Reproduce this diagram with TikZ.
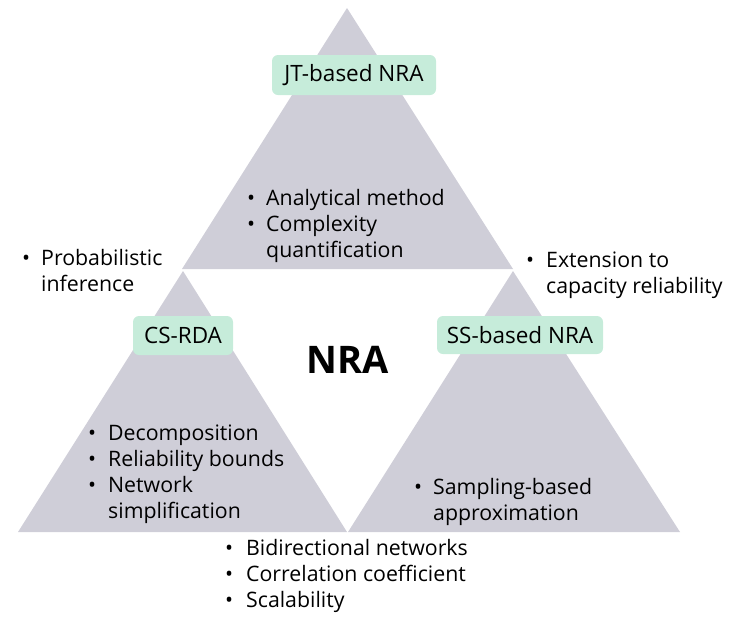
\documentclass[tikz,border=0pt]{standalone}
\usepackage{fontspec}
\setmainfont{Open Sans}
\definecolor{tri}{RGB}{207,206,216}
\definecolor{lbl}{RGB}{198,236,218}
\tikzset{
  tri/.style={fill=tri, draw=none},
  lblbox/.style={fill=lbl, draw=none, rounded corners=6pt, inner sep=0pt, font=\fontsize{22.5}{24}\selectfont},
  blist/.style={anchor=base west, inner sep=0pt, font=\fontsize{21.3}{26}\selectfont},
}
\newcommand{\bl}{\makebox[19pt][l]{\textbullet}}
\newcommand{\nb}{\makebox[19pt][l]{}}
\begin{document}
\begin{tikzpicture}[x=1pt,y=-1pt]
\useasboundingbox (0,0) rectangle (738,622);
% triangles
\fill[tri] (347,8) -- (513,269) -- (182,269) -- cycle;
\fill[tri] (183,271) -- (347,532) -- (18,532) -- cycle;
\fill[tri] (513,271) -- (680,532) -- (348,532) -- cycle;
% labels
\node[lblbox, minimum width=164pt, minimum height=40pt] (jt) at (354,75) {JT-based NRA};
\node[lblbox, minimum width=100pt, minimum height=39pt] (cs) at (183,335.5) {CS-RDA};
\node[lblbox, minimum width=166pt, minimum height=38pt] (ss) at (520,335) {SS-based NRA};
\node[anchor=base, inner sep=0pt, font=\fontsize{38}{40}\selectfont\bfseries] (nra) at (348,373) {NRA};
% lists
\node[blist] (top) at (247,205) {\begin{tabular}[t]{@{}l@{}}\bl Analytical method\\ \bl Complexity\\ \nb quantification\end{tabular}};
\node[blist] (prob) at (22,265) {\begin{tabular}[t]{@{}l@{}}\bl Probabilistic\\ \nb inference\end{tabular}};
\node[blist] (ext) at (526,267) {\begin{tabular}[t]{@{}l@{}}\makebox[20pt][l]{\textbullet}Extension to\\ \makebox[20pt][l]{}capacity reliability\end{tabular}};
\node[blist] (left) at (88,440) {\begin{tabular}[t]{@{}l@{}}\makebox[20pt][l]{\textbullet}Decomposition\\ \makebox[20pt][l]{\textbullet}Reliability bounds\\ \makebox[20pt][l]{\textbullet}Network\\ \makebox[20pt][l]{}simplification\end{tabular}};
\node[blist] (right) at (414,494) {\begin{tabular}[t]{@{}l@{}}\bl Sampling-based\\ \nb approximation\end{tabular}};
\node[blist] (bot) at (225,555) {\begin{tabular}[t]{@{}l@{}}\makebox[21pt][l]{\textbullet}Bidirectional networks\\ \makebox[21pt][l]{\textbullet}Correlation coefficient\\ \makebox[21pt][l]{\textbullet}Scalability\end{tabular}};
\end{tikzpicture}
\end{document}
